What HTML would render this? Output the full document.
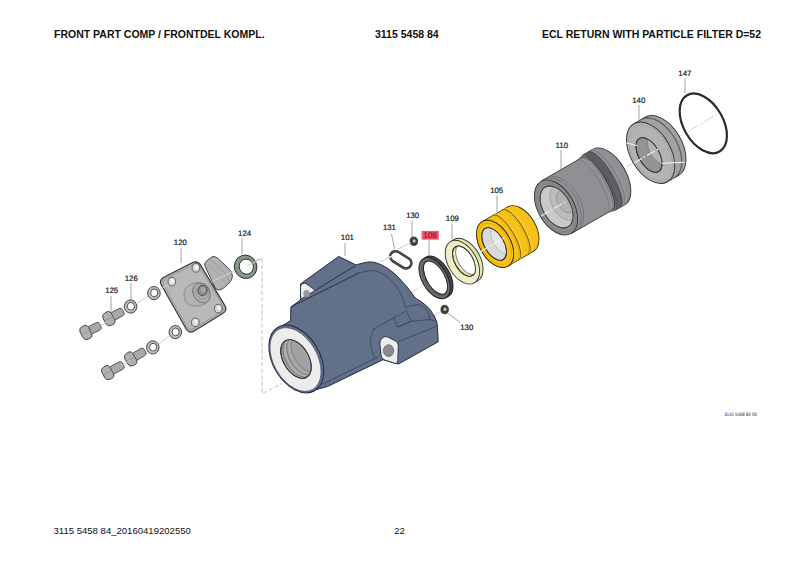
<!DOCTYPE html>
<html><head><meta charset="utf-8">
<style>
html,body{margin:0;padding:0;background:#fff;}
body{width:800px;height:566px;position:relative;overflow:hidden;font-family:"Liberation Sans",sans-serif;color:#111;}
.t{position:absolute;white-space:nowrap;line-height:1;}
.h{font-weight:bold;font-size:10.5px;}
.f{font-size:9.55px;}
svg{position:absolute;left:0;top:0;text-rendering:geometricPrecision;}
</style></head><body>
<div class="t h" style="left:54px;top:29.2px;">FRONT PART COMP / FRONTDEL KOMPL.</div>
<div class="t h" style="left:375px;top:29.2px;">3115 5458 84</div>
<div class="t h" style="left:542px;top:29.2px;">ECL RETURN WITH PARTICLE FILTER D=52</div>
<div class="t f" style="left:53.5px;top:526.2px;">3115 5458 84_20160419202550</div>
<div class="t f" style="left:394.3px;top:526.2px;">22</div>
<svg width="800" height="566" viewBox="0 0 800 566">
<g fill="none" stroke="#cfcfcf" stroke-width="1" stroke-dasharray="10 3 2 3">
<line x1="300.00" y1="357.00" x2="716.00" y2="115.00" stroke="#cfcfcf" stroke-width="1" />
</g>
<ellipse rx="19.80" ry="32.50" transform="translate(703.30,123.40) rotate(-30)" fill="none" stroke="#2b2b2b" stroke-width="2.2" />
<ellipse rx="20.10" ry="33.50" transform="translate(661.86,146.25) rotate(-30)" fill="#a2a2a4" stroke="#333" stroke-width="0.9" /><polygon points="633.85,123.74 645.11,117.24 678.61,175.26 667.35,181.76" fill="#a2a2a4" stroke="none"/><line x1="633.85" y1="123.74" x2="645.11" y2="117.24" stroke="#333" stroke-width="0.9"/><line x1="667.35" y1="181.76" x2="678.61" y2="175.26" stroke="#333" stroke-width="0.9"/><ellipse rx="20.10" ry="33.50" transform="translate(650.60,152.75) rotate(-30)" fill="#b3b3b5" stroke="#333" stroke-width="0.9" />
<polyline points="674.33,177.73 676.17,176.42 677.78,174.77 679.14,172.78 680.22,170.50 681.02,167.94 681.53,165.14 681.73,162.13 681.63,158.95 681.23,155.65 680.53,152.25 679.54,148.82 678.28,145.38 676.75,141.98 674.99,138.67 673.00,135.48 670.82,132.47 668.48,129.65 666.00,127.08 663.41,124.78 660.75,122.77 658.04,121.10 655.34,119.77 652.66,118.81 650.04,118.22 647.52,118.02 645.12,118.20 642.88,118.77 640.83,119.71" fill="none" stroke="#555" stroke-width="1.1" />
<ellipse rx="18.30" ry="30.50" transform="translate(650.60,152.75) rotate(-30)" fill="none" stroke="#9a9a9c" stroke-width="0.6" />
<clipPath id="h140"><ellipse rx="10.2" ry="19.1" transform="translate(649,155) rotate(-30)"/></clipPath>
<ellipse rx="10.20" ry="19.10" transform="translate(649.00,155.00) rotate(-30)" fill="#949496" stroke="#333" stroke-width="0.9" />
<g clip-path="url(#h140)"><ellipse rx="10.00" ry="17.00" transform="translate(659.39,149.00) rotate(-30)" fill="#b4b4b6" stroke="#777" stroke-width="0.6" /></g>
<ellipse rx="10.20" ry="19.10" transform="translate(649.00,155.00) rotate(-30)" fill="none" stroke="#333" stroke-width="0.9" />
<line x1="626.40" y1="143.00" x2="637.50" y2="145.60" stroke="#f6f6f6" stroke-width="1.0" />
<line x1="661.50" y1="163.30" x2="685.00" y2="162.20" stroke="#f6f6f6" stroke-width="1.0" />
<ellipse rx="17.50" ry="32.00" transform="translate(608.83,177.00) rotate(-30)" fill="#909094" stroke="#333" stroke-width="0.9" /><polygon points="581.57,155.79 592.83,149.29 624.83,204.71 613.57,211.21" fill="#909094" stroke="none"/><line x1="581.57" y1="155.79" x2="592.83" y2="149.29" stroke="#333" stroke-width="0.9"/><line x1="613.57" y1="211.21" x2="624.83" y2="204.71" stroke="#333" stroke-width="0.9"/><ellipse rx="17.50" ry="32.00" transform="translate(597.57,183.50) rotate(-30)" fill="#909094" stroke="none" stroke-width="0.9" />
<polygon points="613.57,211.21 614.34,210.53 614.90,209.52 615.25,208.17 615.37,206.52 615.26,204.57 614.94,202.36 614.39,199.91 613.64,197.26 612.68,194.43 611.53,191.47 610.21,188.41 608.73,185.28 607.11,182.13 605.36,179.00 603.52,175.93 601.61,172.95 599.64,170.10 597.65,167.42 595.66,164.95 593.69,162.70 591.77,160.72 589.92,159.03 588.17,157.64 586.54,156.58 585.04,155.86 583.70,155.48 582.54,155.46 581.57,155.79 588.75,152.22 589.72,151.89 590.88,151.90 592.21,152.26 593.69,152.97 595.31,154.01 597.04,155.37 598.87,157.03 600.77,158.97 602.72,161.18 604.69,163.61 606.65,166.24 608.59,169.04 610.48,171.97 612.29,175.00 614.01,178.08 615.60,181.18 617.06,184.26 618.35,187.28 619.48,190.20 620.41,192.99 621.15,195.61 621.67,198.02 621.98,200.20 622.07,202.13 621.94,203.76 621.59,205.09 621.02,206.10 620.25,206.78" fill="#5f5f63" stroke="none" stroke-width="0" stroke-linejoin="round" />
<polyline points="620.25,206.78 621.02,206.10 621.59,205.09 621.94,203.76 622.07,202.13 621.98,200.20 621.67,198.02 621.15,195.61 620.41,192.99 619.48,190.20 618.35,187.28 617.06,184.26 615.60,181.18 614.01,178.08 612.29,175.00 610.48,171.97 608.59,169.04 606.65,166.24 604.69,163.61 602.72,161.18 600.77,158.97 598.87,157.03 597.04,155.37 595.31,154.01 593.69,152.97 592.21,152.26 590.88,151.90 589.72,151.89 588.75,152.22" fill="none" stroke="#3a3a3e" stroke-width="0.7" stroke-linejoin="round" stroke-linecap="round" />
<polyline points="622.66,205.96 623.53,205.23 624.19,204.16 624.62,202.76 624.84,201.05 624.82,199.05 624.57,196.80 624.10,194.31 623.41,191.62 622.51,188.76 621.41,185.77 620.12,182.68 618.67,179.54 617.06,176.38 615.32,173.25 613.48,170.18 611.55,167.21 609.55,164.38 607.52,161.72 605.48,159.27 603.46,157.06 601.47,155.12 599.55,153.47 597.72,152.12 596.00,151.11 594.42,150.44 592.99,150.12 591.73,150.15 590.66,150.54" fill="none" stroke="#6a6a6e" stroke-width="0.6" stroke-linejoin="round" stroke-linecap="round" />
<polyline points="623.53,205.46 624.49,204.67 625.25,203.54 625.78,202.09 626.08,200.33 626.14,198.29 625.98,195.99 625.58,193.46 624.95,190.73 624.11,187.84 623.05,184.82 621.80,181.71 620.38,178.55 618.79,175.39 617.05,172.25 615.20,169.18 613.26,166.22 611.24,163.41 609.17,160.77 607.08,158.35 605.00,156.17 602.95,154.26 600.96,152.65 599.05,151.36 597.25,150.40 595.57,149.78 594.05,149.51 592.70,149.60 591.53,150.04" fill="none" stroke="#a4a4a8" stroke-width="0.5" stroke-linejoin="round" stroke-linecap="round" />
<polyline points="615.30,210.21 616.07,209.53 616.63,208.52 616.98,207.17 617.10,205.52 617.00,203.57 616.67,201.36 616.13,198.91 615.37,196.26 614.41,193.43 613.27,190.47 611.94,187.41 610.46,184.28 608.84,181.13 607.10,178.00 605.26,174.93 603.34,171.95 601.37,169.10 599.38,166.42 597.39,163.95 595.42,161.70 593.50,159.72 591.65,158.03 589.90,156.64 588.27,155.58 586.77,154.86 585.44,154.48 584.27,154.46 583.30,154.79" fill="none" stroke="#4a4a4e" stroke-width="0.5" stroke-linejoin="round" stroke-linecap="round" />
<ellipse rx="9.00" ry="30.30" transform="translate(597.57,183.50) rotate(-30)" fill="#8f9094" stroke="#333" stroke-width="0.9" />
<polygon points="540.85,181.26 582.42,157.26 612.72,209.74 571.15,233.74" fill="#8f9094" stroke="none"/>
<line x1="540.85" y1="181.26" x2="582.42" y2="157.26" stroke="#333" stroke-width="0.9" />
<line x1="571.15" y1="233.74" x2="612.72" y2="209.74" stroke="#333" stroke-width="0.9" />
<polyline points="574.46,231.48 576.12,230.31 577.56,228.83 578.77,227.05 579.74,225.00 580.46,222.71 580.91,220.20 581.09,217.51 581.00,214.66 580.64,211.70 580.02,208.66 579.13,205.59 578.00,202.51 576.63,199.47 575.05,196.50 573.28,193.65 571.32,190.94 569.22,188.42 567.00,186.12 564.68,184.06 562.30,182.26 559.88,180.76 557.46,179.58 555.06,178.71 552.71,178.19 550.45,178.00 548.31,178.17 546.30,178.67 544.46,179.52" fill="none" stroke="#6b6b6f" stroke-width="0.7" />
<polyline points="577.06,229.98 578.71,228.81 580.15,227.33 581.37,225.55 582.34,223.50 583.06,221.21 583.51,218.70 583.69,216.01 583.60,213.16 583.24,210.20 582.62,207.16 581.73,204.09 580.60,201.01 579.23,197.97 577.65,195.00 575.87,192.15 573.92,189.44 571.82,186.92 569.60,184.62 567.28,182.56 564.90,180.76 562.48,179.26 560.05,178.08 557.65,177.21 555.31,176.69 553.05,176.50 550.91,176.67 548.90,177.17 547.06,178.02" fill="none" stroke="#6b6b6f" stroke-width="0.7" />
<polyline points="607.52,212.74 608.30,212.07 608.88,211.08 609.25,209.78 609.40,208.19 609.35,206.32 609.08,204.21 608.60,201.87 607.91,199.34 607.03,196.65 605.97,193.83 604.73,190.92 603.34,187.95 601.81,184.97 600.17,182.00 598.42,179.09 596.60,176.27 594.73,173.59 592.82,171.06 590.91,168.73 589.02,166.62 587.17,164.76 585.39,163.18 583.69,161.89 582.11,160.91 580.65,160.25 579.34,159.92 578.19,159.92 577.22,160.26" fill="none" stroke="#6e6e72" stroke-width="0.6" stroke-linejoin="round" stroke-linecap="round" />
<polyline points="609.69,211.49 610.47,210.82 611.04,209.83 611.41,208.53 611.57,206.94 611.51,205.07 611.24,202.96 610.76,200.62 610.08,198.09 609.20,195.40 608.13,192.58 606.90,189.67 605.51,186.70 603.98,183.72 602.33,180.75 600.59,177.84 598.77,175.02 596.89,172.34 594.99,169.81 593.08,167.48 591.19,165.37 589.34,163.51 587.55,161.93 585.86,160.64 584.27,159.66 582.81,159.00 581.50,158.67 580.36,158.67 579.39,159.01" fill="none" stroke="#a2a2a6" stroke-width="0.6" stroke-linejoin="round" stroke-linecap="round" />
<polyline points="610.99,210.74 611.76,210.07 612.34,209.08 612.71,207.78 612.87,206.19 612.81,204.32 612.54,202.21 612.06,199.87 611.38,197.34 610.50,194.65 609.43,191.83 608.20,188.92 606.81,185.95 605.28,182.97 603.63,180.00 601.89,177.09 600.06,174.27 598.19,171.59 596.29,169.06 594.38,166.73 592.49,164.62 590.64,162.76 588.85,161.18 587.16,159.89 585.57,158.91 584.11,158.25 582.80,157.92 581.66,157.92 580.69,158.26" fill="none" stroke="#6e6e72" stroke-width="0.6" stroke-linejoin="round" stroke-linecap="round" />
<ellipse rx="18.00" ry="30.00" transform="translate(556.00,207.50) rotate(-30)" fill="#919195" stroke="#333" stroke-width="0.9" />
<ellipse rx="16.80" ry="28.00" transform="translate(556.00,207.50) rotate(-30)" fill="none" stroke="#77777b" stroke-width="0.6" />
<ellipse rx="15.60" ry="26.00" transform="translate(556.00,207.50) rotate(-30)" fill="none" stroke="#77777b" stroke-width="0.6" />
<clipPath id="h110"><ellipse rx="13.7" ry="22.9" transform="translate(556.5,207) rotate(-30)"/></clipPath>
<ellipse rx="13.70" ry="22.90" transform="translate(556.50,207.00) rotate(-30)" fill="#c9c9cb" stroke="#444" stroke-width="0.9" />
<g clip-path="url(#h110)"><ellipse rx="11.40" ry="19.00" transform="translate(563.43,203.00) rotate(-30)" fill="#bdbdbf" stroke="#9a9a9c" stroke-width="0.7" /><ellipse rx="7.20" ry="12.00" transform="translate(565.16,202.00) rotate(-30)" fill="#b3b3b5" stroke="#888" stroke-width="0.7" /></g>
<ellipse rx="13.70" ry="22.90" transform="translate(556.50,207.00) rotate(-30)" fill="none" stroke="#444" stroke-width="0.9" />
<ellipse rx="15.40" ry="25.70" transform="translate(520.47,229.20) rotate(-30)" fill="#f6c218" stroke="#3d3000" stroke-width="0.9" /><polygon points="482.25,221.59 507.62,206.94 533.32,251.46 507.95,266.11" fill="#f6c218" stroke="none"/><line x1="482.25" y1="221.59" x2="507.62" y2="206.94" stroke="#3d3000" stroke-width="0.9"/><line x1="507.95" y1="266.11" x2="533.32" y2="251.46" stroke="#3d3000" stroke-width="0.9"/><ellipse rx="15.40" ry="25.70" transform="translate(495.10,243.85) rotate(-30)" fill="#f6c218" stroke="#3d3000" stroke-width="0.9" />
<polyline points="512.28,263.61 513.02,262.99 513.60,262.10 513.99,260.95 514.20,259.56 514.23,257.93 514.07,256.10 513.72,254.08 513.20,251.90 512.50,249.59 511.64,247.18 510.62,244.69 509.47,242.16 508.18,239.62 506.79,237.10 505.31,234.63 503.75,232.25 502.13,229.99 500.49,227.86 498.83,225.91 497.17,224.15 495.55,222.61 493.97,221.30 492.47,220.24 491.05,219.45 489.73,218.94 488.54,218.71 487.49,218.76 486.58,219.09" fill="none" stroke="#e2aa00" stroke-width="0.6" stroke-linejoin="round" stroke-linecap="round" />
<polyline points="517.48,260.61 518.22,259.99 518.79,259.10 519.19,257.95 519.40,256.56 519.42,254.93 519.26,253.10 518.92,251.08 518.39,248.90 517.70,246.59 516.83,244.18 515.82,241.69 514.66,239.16 513.38,236.62 511.99,234.10 510.50,231.63 508.94,229.25 507.33,226.99 505.68,224.86 504.02,222.91 502.37,221.15 500.75,219.61 499.17,218.30 497.66,217.24 496.24,216.45 494.93,215.94 493.74,215.71 492.68,215.76 491.78,216.09" fill="none" stroke="#d49c00" stroke-width="0.6" stroke-linejoin="round" stroke-linecap="round" />
<polyline points="518.78,259.86 519.52,259.24 520.09,258.35 520.49,257.20 520.70,255.81 520.72,254.18 520.56,252.35 520.22,250.33 519.69,248.15 518.99,245.84 518.13,243.43 517.12,240.94 515.96,238.41 514.68,235.87 513.29,233.35 511.80,230.88 510.24,228.50 508.63,226.24 506.98,224.11 505.32,222.16 503.67,220.40 502.04,218.86 500.47,217.55 498.96,216.49 497.54,215.70 496.23,215.19 495.04,214.96 493.98,215.01 493.08,215.34" fill="none" stroke="#5e4800" stroke-width="0.9" stroke-linejoin="round" stroke-linecap="round" />
<polyline points="520.07,259.11 520.82,258.49 521.39,257.60 521.78,256.45 522.00,255.06 522.02,253.43 521.86,251.60 521.52,249.58 520.99,247.40 520.29,245.09 519.43,242.68 518.42,240.19 517.26,237.66 515.98,235.12 514.59,232.60 513.10,230.13 511.54,227.75 509.93,225.49 508.28,223.36 506.62,221.41 504.97,219.65 503.34,218.11 501.77,216.80 500.26,215.74 498.84,214.95 497.53,214.44 496.33,214.21 495.28,214.26 494.37,214.59" fill="none" stroke="#ffd54a" stroke-width="0.7" stroke-linejoin="round" stroke-linecap="round" />
<polyline points="527.00,255.11 527.75,254.49 528.32,253.60 528.71,252.45 528.92,251.06 528.95,249.43 528.79,247.60 528.44,245.58 527.92,243.40 527.22,241.09 526.36,238.68 525.34,236.19 524.19,233.66 522.91,231.12 521.51,228.60 520.03,226.13 518.47,223.75 516.86,221.49 515.21,219.36 513.55,217.41 511.90,215.65 510.27,214.11 508.70,212.80 507.19,211.74 505.77,210.95 504.45,210.44 503.26,210.21 502.21,210.26 501.30,210.59" fill="none" stroke="#d49c00" stroke-width="0.6" stroke-linejoin="round" stroke-linecap="round" />
<polyline points="528.30,254.36 529.04,253.74 529.62,252.85 530.01,251.70 530.22,250.31 530.25,248.68 530.09,246.85 529.74,244.83 529.22,242.65 528.52,240.34 527.66,237.93 526.64,235.44 525.49,232.91 524.21,230.37 522.81,227.85 521.33,225.38 519.77,223.00 518.16,220.74 516.51,218.61 514.85,216.66 513.19,214.90 511.57,213.36 509.99,212.05 508.49,210.99 507.07,210.20 505.75,209.69 504.56,209.46 503.51,209.51 502.60,209.84" fill="none" stroke="#5e4800" stroke-width="0.9" stroke-linejoin="round" stroke-linecap="round" />
<polyline points="529.60,253.61 530.34,252.99 530.92,252.10 531.31,250.95 531.52,249.56 531.55,247.93 531.39,246.10 531.04,244.08 530.52,241.90 529.82,239.59 528.96,237.18 527.94,234.69 526.79,232.16 525.50,229.62 524.11,227.10 522.63,224.63 521.07,222.25 519.45,219.99 517.81,217.86 516.15,215.91 514.49,214.15 512.87,212.61 511.29,211.30 509.79,210.24 508.37,209.45 507.05,208.94 505.86,208.71 504.81,208.76 503.90,209.09" fill="none" stroke="#ffd54a" stroke-width="0.7" stroke-linejoin="round" stroke-linecap="round" />
<ellipse rx="15.40" ry="25.70" transform="translate(495.10,243.85) rotate(-30)" fill="#f8c417" stroke="#3d3000" stroke-width="0.9" />
<ellipse rx="13.50" ry="22.50" transform="translate(495.10,243.85) rotate(-30)" fill="none" stroke="#d6a000" stroke-width="0.6" />
<clipPath id="h105"><ellipse rx="9.75" ry="18" transform="translate(494.1,244) rotate(-30)"/></clipPath>
<ellipse rx="9.75" ry="18.00" transform="translate(494.10,244.00) rotate(-30)" fill="#d9d9d9" stroke="#333" stroke-width="0.9" />
<g clip-path="url(#h105)"><ellipse rx="9.00" ry="16.00" transform="translate(501.89,239.50) rotate(-30)" fill="#e6e6e6" stroke="#aaa" stroke-width="0.6" /></g>
<ellipse rx="9.75" ry="18.00" transform="translate(494.10,244.00) rotate(-30)" fill="none" stroke="#333" stroke-width="0.9" />
<ellipse rx="14.30" ry="23.80" transform="translate(465.86,260.20) rotate(-30)" fill="#e4e4b0" stroke="#333" stroke-width="0.9" /><polygon points="450.50,241.59 453.96,239.59 477.76,280.81 474.30,282.81" fill="#e4e4b0" stroke="none"/><line x1="450.50" y1="241.59" x2="453.96" y2="239.59" stroke="#333" stroke-width="0.9"/><line x1="474.30" y1="282.81" x2="477.76" y2="280.81" stroke="#333" stroke-width="0.9"/><ellipse rx="14.30" ry="23.80" transform="translate(462.40,262.20) rotate(-30)" fill="#efefc6" stroke="#333" stroke-width="0.9" />
<clipPath id="h109"><ellipse rx="9.1" ry="16.7" transform="translate(464,261.2) rotate(-30)"/></clipPath>
<ellipse rx="9.10" ry="16.70" transform="translate(464.00,261.20) rotate(-30)" fill="#e8e8b6" stroke="#333" stroke-width="0.9" />
<g clip-path="url(#h109)"><ellipse rx="9.10" ry="16.70" transform="translate(467.03,259.45) rotate(-30)" fill="#ffffff" stroke="#555" stroke-width="0.7" /></g>
<ellipse rx="9.10" ry="16.70" transform="translate(464.00,261.20) rotate(-30)" fill="none" stroke="#333" stroke-width="0.9" />
<ellipse rx="12.60" ry="22.60" transform="translate(437.37,276.60) rotate(-30)" fill="#4a4a4a" stroke="#1c1c1c" stroke-width="0.9" /><polygon points="423.30,258.63 426.07,257.03 448.67,296.17 445.90,297.77" fill="#4a4a4a" stroke="none"/><line x1="423.30" y1="258.63" x2="426.07" y2="257.03" stroke="#1c1c1c" stroke-width="0.9"/><line x1="445.90" y1="297.77" x2="448.67" y2="296.17" stroke="#1c1c1c" stroke-width="0.9"/><ellipse rx="12.60" ry="22.60" transform="translate(434.60,278.20) rotate(-30)" fill="#5e5e5e" stroke="#1c1c1c" stroke-width="0.9" />
<ellipse rx="11.20" ry="20.60" transform="translate(434.60,278.20) rotate(-30)" fill="none" stroke="#7a7a7a" stroke-width="0.8" />
<ellipse rx="9.00" ry="18.40" transform="translate(435.55,277.65) rotate(-30)" fill="#ffffff" stroke="#1c1c1c" stroke-width="0.9" />
<g transform="translate(400.8,259.8) rotate(32)"><rect x="-11.5" y="-5.4" width="23" height="10.8" rx="5.4" fill="none" stroke="#262626" stroke-width="2.5"/><rect x="-11.5" y="-5.4" width="23" height="10.8" rx="5.4" fill="none" stroke="#8a8a8a" stroke-width="0.6"/></g>
<line x1="387.50" y1="258.50" x2="392.50" y2="255.80" stroke="#ececec" stroke-width="1.4" />
<ellipse cx="413.8" cy="241.2" rx="3.8" ry="4.3" fill="#3e3e3e" stroke="#1e1e1e" stroke-width="0.6"/>
<ellipse cx="414.1" cy="240.89999999999998" rx="1.5" ry="1.7" fill="#c8c8c8"/>
<ellipse cx="444.7" cy="309.5" rx="3.8" ry="4.3" fill="#3e3e3e" stroke="#1e1e1e" stroke-width="0.6"/>
<ellipse cx="445.0" cy="309.2" rx="1.5" ry="1.7" fill="#c8c8c8"/>
<line x1="380.00" y1="262.00" x2="390.00" y2="256.30" stroke="#cfcfcf" stroke-width="1" />
<line x1="398.00" y1="249.00" x2="411.00" y2="242.50" stroke="#cfcfcf" stroke-width="1" />
<line x1="430.00" y1="318.00" x2="441.00" y2="311.50" stroke="#cfcfcf" stroke-width="1" />
<path d="M279.6,327.6 L290.6,320.5 L290.9,307 L300.5,300 L300.5,284 L338.7,256.4 L355.6,264.8 C356.08,264.70 355.98,264.68 358.50,264.20 C361.02,263.72 366.82,261.75 370.70,261.90 C374.58,262.05 378.10,263.37 381.80,265.10 C385.50,266.83 389.45,269.52 392.90,272.30 C396.35,275.08 399.58,278.63 402.50,281.80 C405.42,284.97 408.28,288.65 410.40,291.30 C412.52,293.95 413.60,296.10 415.20,297.70 C416.80,299.30 417.88,299.32 420.00,300.90 C422.12,302.48 425.78,305.08 427.90,307.20 C430.02,309.32 431.25,311.22 432.70,313.60 C434.15,315.98 435.78,318.77 436.60,321.50 C437.42,324.23 437.33,326.62 437.60,330.00 C437.87,333.38 438.10,339.83 438.20,341.80 L398.5,364 L383,359.7 L327.5,386.5 L313,390.4 Z" fill="#627089" stroke="#1f2940" stroke-width="1" stroke-linejoin="round"/>
<polyline points="315.40,290.30 355.60,265.50" fill="none" stroke="#1f2940" stroke-width="0.9" stroke-linejoin="round" stroke-linecap="round" />
<polyline points="291.40,306.50 358.40,273.30" fill="none" stroke="#1f2940" stroke-width="0.9" stroke-linejoin="round" stroke-linecap="round" />
<path d="M356,273.5 C359.07,273.03 369.03,270.02 374.40,270.70 C379.77,271.38 384.37,274.73 388.20,277.60 C392.03,280.47 394.92,284.27 397.40,287.90 C399.88,291.53 401.77,296.15 403.10,299.40 C404.43,302.65 405.02,306.07 405.40,307.40" fill="none" stroke="#34405a" stroke-width="0.8"/>
<polyline points="405.40,307.40 417.00,304.50 423.00,306.50 428.00,312.00 430.00,319.50" fill="none" stroke="#34405a" stroke-width="0.75" stroke-linejoin="round" stroke-linecap="round" />
<polyline points="394.00,317.70 406.60,310.80 411.20,321.20 397.40,326.90 394.00,317.70" fill="none" stroke="#34405a" stroke-width="0.7" stroke-linejoin="round" stroke-linecap="round" />
<polyline points="373.30,329.20 394.00,317.70" fill="none" stroke="#34405a" stroke-width="0.75" stroke-linejoin="round" stroke-linecap="round" />
<polyline points="398.50,327.00 411.20,321.20 430.00,319.50 436.60,321.50" fill="none" stroke="#34405a" stroke-width="0.75" stroke-linejoin="round" stroke-linecap="round" />
<polyline points="398.50,341.80 437.60,325.80" fill="none" stroke="#34405a" stroke-width="0.8" stroke-linejoin="round" stroke-linecap="round" />
<polyline points="323.00,384.00 378.00,357.00" fill="none" stroke="#34405a" stroke-width="0.8" stroke-linejoin="round" stroke-linecap="round" />
<path d="M374.4,328 C373.83,329.50 371.57,333.93 371.00,337.00 C370.43,340.07 370.43,342.90 371.00,346.40 C371.57,349.90 373.83,356.07 374.40,358.00" fill="none" stroke="#34405a" stroke-width="0.7"/>
<path d=" M300.50,287.36 Q300.50,285.00 302.50,283.75 L302.50,283.75 Q304.50,282.50 306.42,283.87 L313.37,288.85 Q315.40,290.30 313.28,291.62 L302.62,298.28 Q300.50,299.60 300.50,297.10 Z" fill="#ededed" stroke="#1f2940" stroke-width="0.9"/>
<ellipse cx="306.5" cy="293.5" rx="3.2" ry="3.6" fill="#9a9a9a"/>
<path d=" M379.88,343.98 Q379.50,340.50 382.09,338.15 L382.41,337.85 Q385.00,335.50 388.11,337.11 L395.39,340.89 Q398.50,342.50 398.35,346.00 L397.75,360.70 Q397.60,364.20 394.27,363.12 L384.83,360.08 Q381.50,359.00 381.12,355.52 Z" fill="#ededed" stroke="#1f2940" stroke-width="0.9"/>
<ellipse cx="388.6" cy="350.6" rx="5.2" ry="5.8" fill="#8c8c8c" stroke="#555" stroke-width="0.7"/>
<ellipse rx="23.60" ry="36.60" transform="translate(296.30,359.00) rotate(-30)" fill="#627089" stroke="#1f2940" stroke-width="1" />
<ellipse rx="21.80" ry="34.60" transform="translate(295.50,359.50) rotate(-30)" fill="#ececec" stroke="#44506a" stroke-width="0.7" />
<clipPath id="h101"><ellipse rx="12.75" ry="21.1" transform="translate(296,359) rotate(-30)"/></clipPath>
<ellipse rx="12.75" ry="21.10" transform="translate(296.00,359.00) rotate(-30)" fill="#a2a2a4" stroke="#333" stroke-width="0.9" />
<g clip-path="url(#h101)"><ellipse rx="12.75" ry="21.10" transform="translate(298.17,357.75) rotate(-30)" fill="none" stroke="#6e6e70" stroke-width="0.7" /><ellipse rx="12.75" ry="21.10" transform="translate(300.33,356.50) rotate(-30)" fill="none" stroke="#c0c0c2" stroke-width="0.7" /><ellipse rx="12.75" ry="21.10" transform="translate(302.06,355.50) rotate(-30)" fill="none" stroke="#707072" stroke-width="0.7" /><ellipse rx="12.75" ry="21.10" transform="translate(304.23,354.25) rotate(-30)" fill="none" stroke="#bdbdbf" stroke-width="0.7" /><ellipse rx="12.75" ry="21.10" transform="translate(306.39,353.00) rotate(-30)" fill="none" stroke="#7a7a7c" stroke-width="0.7" /></g>
<ellipse rx="12.75" ry="21.10" transform="translate(296.00,359.00) rotate(-30)" fill="none" stroke="#333" stroke-width="0.9" />
<path d=" M204.98,266.21 Q203.70,263.50 206.01,261.59 L211.15,257.34 Q212.90,255.90 215.00,256.75 L215.00,256.75 Q217.10,257.60 218.75,259.15 L228.31,268.14 Q230.50,270.20 231.69,272.95 L231.81,273.25 Q233.00,276.00 231.85,278.77 L231.65,279.23 Q230.50,282.00 228.26,284.00 L224.28,287.55 Q222.10,289.50 219.20,289.90 L219.20,289.90 Q216.30,290.30 215.05,287.65 Z" fill="#b2b2b4" stroke="#3a3a3a" stroke-width="0.9"/>
<polyline points="211.00,260.00 226.00,274.00 229.00,281.00" fill="none" stroke="#8a8a8c" stroke-width="0.7" stroke-linejoin="round" stroke-linecap="round" />
<polyline points="208.00,264.00 223.00,278.00 226.00,286.00" fill="none" stroke="#9a9a9c" stroke-width="0.6" stroke-linejoin="round" stroke-linecap="round" />
<path d=" M161.45,285.22 Q158.50,280.00 163.84,277.26 L192.16,262.74 Q197.50,260.00 200.59,265.14 L224.71,305.36 Q227.80,310.50 222.67,313.61 L194.13,330.89 Q189.00,334.00 186.05,328.78 Z" fill="#b0b0b2" stroke="#3a3a3a" stroke-width="1.2"/>
<path d=" M163.94,285.36 Q161.50,281.00 165.96,278.74 L192.54,265.26 Q197.00,263.00 199.58,267.28 L222.42,305.22 Q225.00,309.50 220.72,312.09 L193.78,328.41 Q189.50,331.00 187.06,326.64 Z" fill="#b9b9bb" stroke="#8a8a8c" stroke-width="0.6"/>
<ellipse cx="195.9" cy="267.8" rx="3.8" ry="4.3" fill="#d6d6d8" stroke="#4a4a4a" stroke-width="0.8"/>
<ellipse cx="196.6" cy="267.2" rx="1.9" ry="2.2" fill="#f2f2f2"/>
<ellipse cx="171.8" cy="281.6" rx="3.8" ry="4.3" fill="#d6d6d8" stroke="#4a4a4a" stroke-width="0.8"/>
<ellipse cx="172.5" cy="281.0" rx="1.9" ry="2.2" fill="#f2f2f2"/>
<ellipse cx="218.3" cy="308.6" rx="3.8" ry="4.3" fill="#d6d6d8" stroke="#4a4a4a" stroke-width="0.8"/>
<ellipse cx="219.0" cy="308.0" rx="1.9" ry="2.2" fill="#f2f2f2"/>
<ellipse cx="195.3" cy="322.4" rx="3.8" ry="4.3" fill="#d6d6d8" stroke="#4a4a4a" stroke-width="0.8"/>
<ellipse cx="196.0" cy="321.79999999999995" rx="1.9" ry="2.2" fill="#f2f2f2"/>
<path d=" M184.17,295.92 Q183.20,290.00 187.80,286.15 L188.40,285.65 Q193.00,281.80 198.91,282.83 L202.59,283.47 Q208.50,284.50 209.19,290.46 L209.61,294.04 Q210.30,300.00 205.40,303.47 L204.90,303.83 Q200.00,307.30 194.15,305.97 L191.35,305.33 Q185.50,304.00 184.53,298.08 Z" fill="#b3b3b5" stroke="#7a7a7c" stroke-width="0.7"/>
<ellipse rx="8.20" ry="10.50" transform="translate(201.50,293.00) rotate(-30)" fill="#aeaeb0" stroke="#6a6a6c" stroke-width="0.8" />
<ellipse rx="6.00" ry="7.50" transform="translate(202.00,292.00) rotate(-30)" fill="none" stroke="#8a8a8c" stroke-width="0.6" />
<ellipse cx="202.5" cy="290.5" rx="4.6" ry="5.1" fill="#8e8e90" stroke="#3a3a3a" stroke-width="0.8"/>
<ellipse cx="203.2" cy="289.8" rx="2.4" ry="2.8" fill="#a6a6a8"/>
<ellipse rx="11.2" ry="11.8" transform="translate(245.6,266.8) rotate(-20)" fill="#889888" stroke="#2e2e2e" stroke-width="0.9"/>
<ellipse rx="7.1" ry="7.6" transform="translate(246.3,266.6) rotate(-20)" fill="#ffffff" stroke="#2e2e2e" stroke-width="0.9"/>
<line x1="247.00" y1="266.00" x2="262.00" y2="258.40" stroke="#cfcfcf" stroke-width="1" />
<g transform="translate(86.1,332.4) rotate(-26.7)"><rect x="2" y="-4.1" width="14.0" height="8.2" rx="2.6" fill="#b2b2b2" stroke="#444" stroke-width="0.8"/><line x1="6.0" y1="-3.8" x2="7.4" y2="3.8" stroke="#808080" stroke-width="0.55"/><line x1="8.6" y1="-3.8" x2="10.0" y2="3.8" stroke="#808080" stroke-width="0.55"/><line x1="11.2" y1="-3.8" x2="12.6" y2="3.8" stroke="#808080" stroke-width="0.55"/><line x1="13.8" y1="-3.8" x2="15.2" y2="3.8" stroke="#808080" stroke-width="0.55"/><path d="M-5.2,-3.2 Q-5,-6.8 -1,-7 L1.8,-7 Q4.2,-6.6 4.4,-3.5 L4.4,3.5 Q4.2,6.6 1.8,7 L-1,7 Q-5,6.8 -5.2,3.2 Z" fill="#b0b0b0" stroke="#444" stroke-width="0.85"/><line x1="-4.6" y1="0" x2="4" y2="0" stroke="#8a8a8a" stroke-width="0.5"/></g>
<g transform="translate(109.1,318.6) rotate(-28.3)"><rect x="2" y="-4.1" width="14.0" height="8.2" rx="2.6" fill="#b2b2b2" stroke="#444" stroke-width="0.8"/><line x1="6.0" y1="-3.8" x2="7.4" y2="3.8" stroke="#808080" stroke-width="0.55"/><line x1="8.6" y1="-3.8" x2="10.0" y2="3.8" stroke="#808080" stroke-width="0.55"/><line x1="11.2" y1="-3.8" x2="12.6" y2="3.8" stroke="#808080" stroke-width="0.55"/><line x1="13.8" y1="-3.8" x2="15.2" y2="3.8" stroke="#808080" stroke-width="0.55"/><path d="M-5.2,-3.2 Q-5,-6.8 -1,-7 L1.8,-7 Q4.2,-6.6 4.4,-3.5 L4.4,3.5 Q4.2,6.6 1.8,7 L-1,7 Q-5,6.8 -5.2,3.2 Z" fill="#b0b0b0" stroke="#444" stroke-width="0.85"/><line x1="-4.6" y1="0" x2="4" y2="0" stroke="#8a8a8a" stroke-width="0.5"/></g>
<g transform="translate(107.9,372.6) rotate(-28.2)"><rect x="2" y="-4.1" width="15.4" height="8.2" rx="2.6" fill="#b2b2b2" stroke="#444" stroke-width="0.8"/><line x1="6.0" y1="-3.8" x2="7.4" y2="3.8" stroke="#808080" stroke-width="0.55"/><line x1="8.6" y1="-3.8" x2="10.0" y2="3.8" stroke="#808080" stroke-width="0.55"/><line x1="11.2" y1="-3.8" x2="12.6" y2="3.8" stroke="#808080" stroke-width="0.55"/><line x1="13.8" y1="-3.8" x2="15.2" y2="3.8" stroke="#808080" stroke-width="0.55"/><path d="M-5.2,-3.2 Q-5,-6.8 -1,-7 L1.8,-7 Q4.2,-6.6 4.4,-3.5 L4.4,3.5 Q4.2,6.6 1.8,7 L-1,7 Q-5,6.8 -5.2,3.2 Z" fill="#b0b0b0" stroke="#444" stroke-width="0.85"/><line x1="-4.6" y1="0" x2="4" y2="0" stroke="#8a8a8a" stroke-width="0.5"/></g>
<g transform="translate(130.9,358.9) rotate(-29.9)"><rect x="2" y="-4.1" width="14.3" height="8.2" rx="2.6" fill="#b2b2b2" stroke="#444" stroke-width="0.8"/><line x1="6.0" y1="-3.8" x2="7.4" y2="3.8" stroke="#808080" stroke-width="0.55"/><line x1="8.6" y1="-3.8" x2="10.0" y2="3.8" stroke="#808080" stroke-width="0.55"/><line x1="11.2" y1="-3.8" x2="12.6" y2="3.8" stroke="#808080" stroke-width="0.55"/><line x1="13.8" y1="-3.8" x2="15.2" y2="3.8" stroke="#808080" stroke-width="0.55"/><path d="M-5.2,-3.2 Q-5,-6.8 -1,-7 L1.8,-7 Q4.2,-6.6 4.4,-3.5 L4.4,3.5 Q4.2,6.6 1.8,7 L-1,7 Q-5,6.8 -5.2,3.2 Z" fill="#b0b0b0" stroke="#444" stroke-width="0.85"/><line x1="-4.6" y1="0" x2="4" y2="0" stroke="#8a8a8a" stroke-width="0.5"/></g>
<ellipse cx="130.6" cy="306.5" rx="5.1" ry="5.4" fill="none" stroke="#bdbdbd" stroke-width="2.6"/>
<ellipse cx="130.6" cy="306.5" rx="6.3" ry="6.6" fill="none" stroke="#3a3a3a" stroke-width="0.9"/>
<ellipse cx="130.9" cy="306.3" rx="3.6" ry="3.9" fill="none" stroke="#3a3a3a" stroke-width="0.9"/>
<ellipse cx="153.9" cy="293.1" rx="5.1" ry="5.4" fill="none" stroke="#bdbdbd" stroke-width="2.6"/>
<ellipse cx="153.9" cy="293.1" rx="6.3" ry="6.6" fill="none" stroke="#3a3a3a" stroke-width="0.9"/>
<ellipse cx="154.20000000000002" cy="292.90000000000003" rx="3.6" ry="3.9" fill="none" stroke="#3a3a3a" stroke-width="0.9"/>
<ellipse cx="152.8" cy="347.4" rx="5.1" ry="5.4" fill="none" stroke="#bdbdbd" stroke-width="2.6"/>
<ellipse cx="152.8" cy="347.4" rx="6.3" ry="6.6" fill="none" stroke="#3a3a3a" stroke-width="0.9"/>
<ellipse cx="153.10000000000002" cy="347.2" rx="3.6" ry="3.9" fill="none" stroke="#3a3a3a" stroke-width="0.9"/>
<ellipse cx="175.3" cy="332.1" rx="5.1" ry="5.4" fill="none" stroke="#bdbdbd" stroke-width="2.6"/>
<ellipse cx="175.3" cy="332.1" rx="6.3" ry="6.6" fill="none" stroke="#3a3a3a" stroke-width="0.9"/>
<ellipse cx="175.60000000000002" cy="331.90000000000003" rx="3.6" ry="3.9" fill="none" stroke="#3a3a3a" stroke-width="0.9"/>
<line x1="100.40" y1="325.40" x2="107.00" y2="322.00" stroke="#cfcfcf" stroke-width="1" />
<line x1="123.00" y1="311.00" x2="124.50" y2="310.00" stroke="#cfcfcf" stroke-width="1" />
<line x1="136.50" y1="303.50" x2="147.70" y2="296.50" stroke="#cfcfcf" stroke-width="1" />
<line x1="160.00" y1="289.50" x2="168.00" y2="285.00" stroke="#cfcfcf" stroke-width="1" />
<line x1="123.20" y1="364.40" x2="130.00" y2="360.60" stroke="#cfcfcf" stroke-width="1" />
<line x1="145.20" y1="350.80" x2="146.70" y2="350.00" stroke="#cfcfcf" stroke-width="1" />
<line x1="159.00" y1="344.00" x2="169.00" y2="336.00" stroke="#cfcfcf" stroke-width="1" />
<line x1="211.00" y1="282.00" x2="234.00" y2="271.00" stroke="#cfcfcf" stroke-width="1" />
<line x1="541.00" y1="216.00" x2="566.00" y2="201.50" stroke="#f2f2f2" stroke-width="1.1" stroke-dasharray="9 2 2 2"/>
<line x1="634.00" y1="163.00" x2="659.00" y2="148.50" stroke="#f2f2f2" stroke-width="1.1" stroke-dasharray="9 2 2 2"/>
<line x1="687.00" y1="132.50" x2="713.00" y2="117.50" stroke="#f2f2f2" stroke-width="1.1" stroke-dasharray="9 2 2 2"/>
<line x1="480.00" y1="252.00" x2="505.00" y2="237.50" stroke="#f2f2f2" stroke-width="1.1" stroke-dasharray="9 2 2 2"/>
<line x1="685.00" y1="78.50" x2="685.00" y2="93.00" stroke="#8a8a8a" stroke-width="0.8" />
<line x1="639.00" y1="105.00" x2="639.00" y2="121.00" stroke="#8a8a8a" stroke-width="0.8" />
<line x1="561.00" y1="150.00" x2="561.00" y2="176.00" stroke="#8a8a8a" stroke-width="0.8" />
<line x1="497.00" y1="195.50" x2="497.00" y2="212.00" stroke="#8a8a8a" stroke-width="0.8" />
<line x1="452.00" y1="223.50" x2="452.00" y2="239.50" stroke="#8a8a8a" stroke-width="0.8" />
<line x1="429.00" y1="240.50" x2="429.00" y2="256.00" stroke="#8a8a8a" stroke-width="0.8" />
<line x1="412.00" y1="220.50" x2="412.00" y2="237.50" stroke="#8a8a8a" stroke-width="0.8" />
<line x1="391.50" y1="234.00" x2="394.60" y2="249.00" stroke="#8a8a8a" stroke-width="0.8" />
<line x1="447.00" y1="312.50" x2="460.00" y2="322.50" stroke="#8a8a8a" stroke-width="0.8" />
<line x1="345.00" y1="242.50" x2="345.00" y2="256.00" stroke="#8a8a8a" stroke-width="0.8" />
<line x1="242.00" y1="238.50" x2="242.00" y2="254.00" stroke="#8a8a8a" stroke-width="0.8" />
<line x1="181.00" y1="248.00" x2="181.00" y2="263.00" stroke="#8a8a8a" stroke-width="0.8" />
<line x1="131.00" y1="283.50" x2="131.00" y2="300.00" stroke="#8a8a8a" stroke-width="0.8" />
<line x1="111.00" y1="296.00" x2="111.00" y2="312.00" stroke="#8a8a8a" stroke-width="0.8" />
<g style="font-family:'Liberation Sans',sans-serif">
<rect x="421.6" y="230.9" width="17.2" height="8.8" fill="#ef5a6e"/>
<text x="678.35" y="76.28" font-size="7.8" fill="#222" stroke="#222" stroke-width="0.22">147</text>
<text x="632.25" y="102.98" font-size="7.8" fill="#222" stroke="#222" stroke-width="0.22">140</text>
<text x="555.55" y="148.18" font-size="7.8" fill="#222" stroke="#222" stroke-width="0.22">110</text>
<text x="490.15" y="192.58" font-size="7.8" fill="#222" stroke="#222" stroke-width="0.22">105</text>
<text x="445.85" y="220.58" font-size="7.8" fill="#222" stroke="#222" stroke-width="0.22">109</text>
<text x="423.15" y="238.47" font-size="8.2" fill="#a0102a" stroke="#a0102a" stroke-width="0.22">108</text>
<text x="406.15" y="217.98" font-size="7.8" fill="#222" stroke="#222" stroke-width="0.22">130</text>
<text x="382.95" y="230.38" font-size="7.8" fill="#222" stroke="#222" stroke-width="0.22">131</text>
<text x="460.25" y="330.08" font-size="7.8" fill="#222" stroke="#222" stroke-width="0.22">130</text>
<text x="340.85" y="239.58" font-size="7.8" fill="#222" stroke="#222" stroke-width="0.22">101</text>
<text x="238.05" y="236.08" font-size="7.8" fill="#222" stroke="#222" stroke-width="0.22">124</text>
<text x="173.85" y="245.28" font-size="7.8" fill="#222" stroke="#222" stroke-width="0.22">120</text>
<text x="124.75" y="280.58" font-size="7.8" fill="#222" stroke="#222" stroke-width="0.22">126</text>
<text x="105.15" y="293.18" font-size="7.8" fill="#222" stroke="#222" stroke-width="0.22">125</text>
<text x="724.4" y="416.4" font-size="4.9" textLength="32.4" lengthAdjust="spacingAndGlyphs" fill="#222">3115 5458 84 03</text>
</g>
<polyline points="256.1,260.4 262,258.2 262,393.6 282.3,383.6" fill="none" stroke="#b0b0b0" stroke-width="0.8" stroke-dasharray="4 2.5"/>
</svg>
</body></html>
